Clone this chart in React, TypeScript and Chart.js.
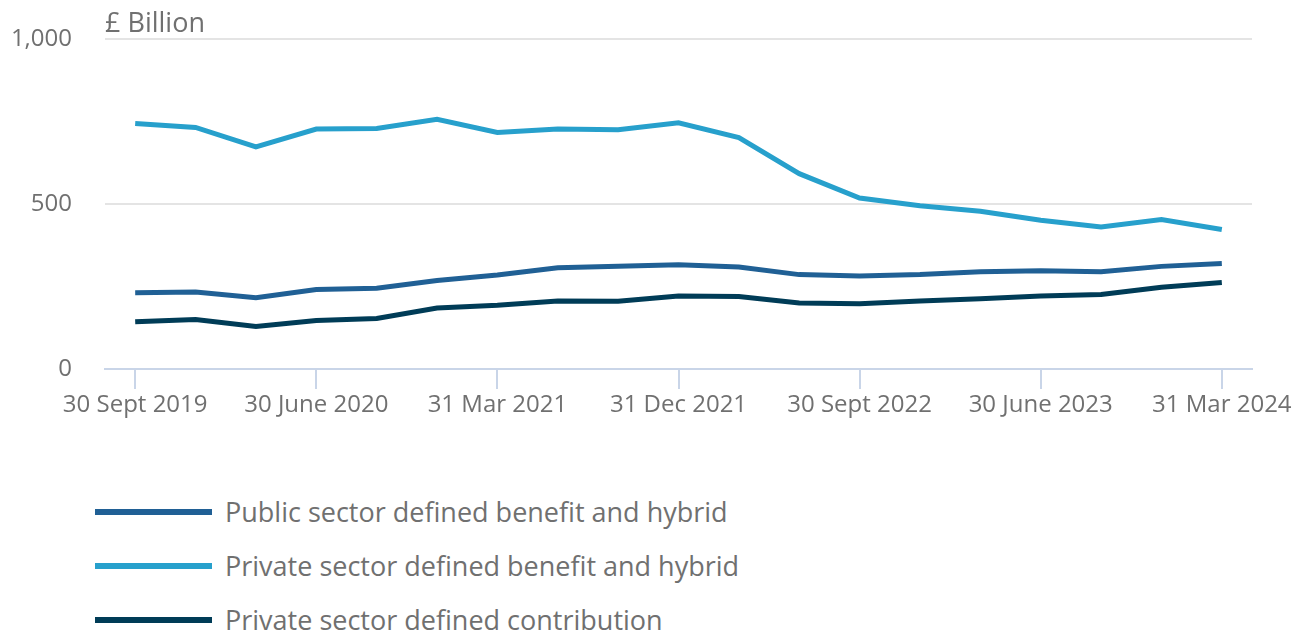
import React, { useEffect, useRef } from "react";
import { Chart, registerables } from "chart.js";

Chart.register(...registerables);

const categories = [
  "30 Sept 2019", "31 Dec 2019", "31 Mar 2020", "30 June 2020", "30 Sept 2020",
  "31 Dec 2020", "31 Mar 2021", "30 June 2021", "30 Sept 2021", "31 Dec 2021",
  "31 Mar 2022", "30 June 2022", "30 Sept 2022", "31 Dec 2022", "31 Mar 2023",
  "30 June 2023", "30 Sept 2023", "31 Dec 2023", "31 Mar 2024",
];

const publicDB = [231, 233, 216, 241, 245, 268, 285, 307, 311, 316, 309, 286, 282, 286, 295, 298, 295, 311, 320];
const privateDB = [744, 732, 673, 727, 729, 757, 717, 727, 725, 746, 701, 592, 518, 495, 478, 451, 430, 453, 423];
const privateDC = [143, 150, 129, 147, 153, 185, 193, 206, 205, 221, 220, 200, 198, 206, 213, 221, 226, 248, 262];

const yTicks = [0, 500, 1000];

const seriesNames = [
  "Public sector defined benefit and hybrid",
  "Private sector defined benefit and hybrid",
  "Private sector defined contribution",
];
const seriesColors = ["#206095", "#27a0cc", "#003c57"];

const FONT = "'Open Sans', 'Noto Sans', sans-serif";
const TEXT = "#707070";
const AXIS = "#c9d5e8";
const GRID = "#e4e4e4";

export default function App() {
  const ref = useRef<HTMLCanvasElement | null>(null);

  useEffect(() => {
    document.body.style.margin = "8px 8px 0 8px";
    if (!ref.current) return;
    const titlePlugin = {
      id: "unitTitle",
      afterDraw(chart: any) {
        const { ctx, chartArea } = chart;
        ctx.save();
        ctx.font = `27px ${FONT}`;
        ctx.fillStyle = TEXT;
        ctx.textAlign = "left";
        ctx.textBaseline = "middle";
        ctx.fillText("£ Billion", chartArea.left, 16);
        ctx.restore();
      },
    };
    const chart = new Chart(ref.current, {
      type: "line",
      data: {
        labels: categories,
        datasets: [
          { label: seriesNames[0], data: publicDB, borderColor: seriesColors[0], backgroundColor: seriesColors[0] },
          { label: seriesNames[1], data: privateDB, borderColor: seriesColors[1], backgroundColor: seriesColors[1] },
          { label: seriesNames[2], data: privateDC, borderColor: seriesColors[2], backgroundColor: seriesColors[2] },
        ].map((d) => ({ ...d, borderWidth: 5, pointRadius: 0, tension: 0, fill: false })),
      },
      options: {
        animation: false,
        responsive: true,
        maintainAspectRatio: false,
        layout: { padding: { top: 31, right: 47, left: 0, bottom: 0 } },
        plugins: {
          legend: { display: false },
          tooltip: { enabled: false },
          title: { display: false },
        },
        scales: {
          x: {
            type: "category",
            offset: true,
            afterFit: (s: any) => { s.height = 79; },
            border: { display: true, color: AXIS, width: 2 },
            grid: {
              drawOnChartArea: false,
              drawTicks: true,
              tickLength: 20,
              lineWidth: 2,
              color: (c: any) => (c.index % 3 === 0 ? AXIS : "rgba(0,0,0,0)"),
            },
            ticks: {
              autoSkip: false,
              maxRotation: 0,
              minRotation: 0,
              padding: 2,
              color: TEXT,
              font: { family: FONT, size: 24 },
              callback: (_v: any, i: number) => (i % 3 === 0 ? categories[i] : ""),
            },
          },
          y: {
            min: yTicks[0],
            max: yTicks[yTicks.length - 1],
            afterFit: (s: any) => {
              s.width = 97;
              s.paddingTop = 0;
              s.paddingBottom = 0;
            },
            afterBuildTicks: (s: any) => { s.ticks = yTicks.map((v) => ({ value: v })); },
            border: { display: false },
            grid: {
              drawTicks: false,
              lineWidth: 2,
              color: (c: any) => (c.tick && c.tick.value === 0 ? "rgba(0,0,0,0)" : GRID),
            },
            ticks: {
              padding: 33,
              color: TEXT,
              font: { family: FONT, size: 24 },
              callback: (v: any) => Number(v).toLocaleString("en-GB"),
            },
          },
        },
      },
      plugins: [titlePlugin],
    } as any);
    return () => chart.destroy();
  }, []);

  return (
    <div style={{ position: "relative", width: 1291, height: 624 }}>
      <div style={{ position: "absolute", left: 0, top: 0, width: 1291, height: 440 }}>
        <canvas ref={ref} />
      </div>
      {seriesNames.map((name, i) => (
        <div
          key={name}
          style={{
            position: "absolute",
            left: 87,
            top: 504 + 54 * i - 12,
            height: 24,
            display: "flex",
            alignItems: "center",
            fontFamily: FONT,
            fontSize: 27,
            lineHeight: "24px",
            color: TEXT,
            whiteSpace: "nowrap",
          }}
        >
          <span style={{ display: "inline-block", width: 117, height: 6, background: seriesColors[i], marginRight: 13 }} />
          <span>{name}</span>
        </div>
      ))}
    </div>
  );
}
